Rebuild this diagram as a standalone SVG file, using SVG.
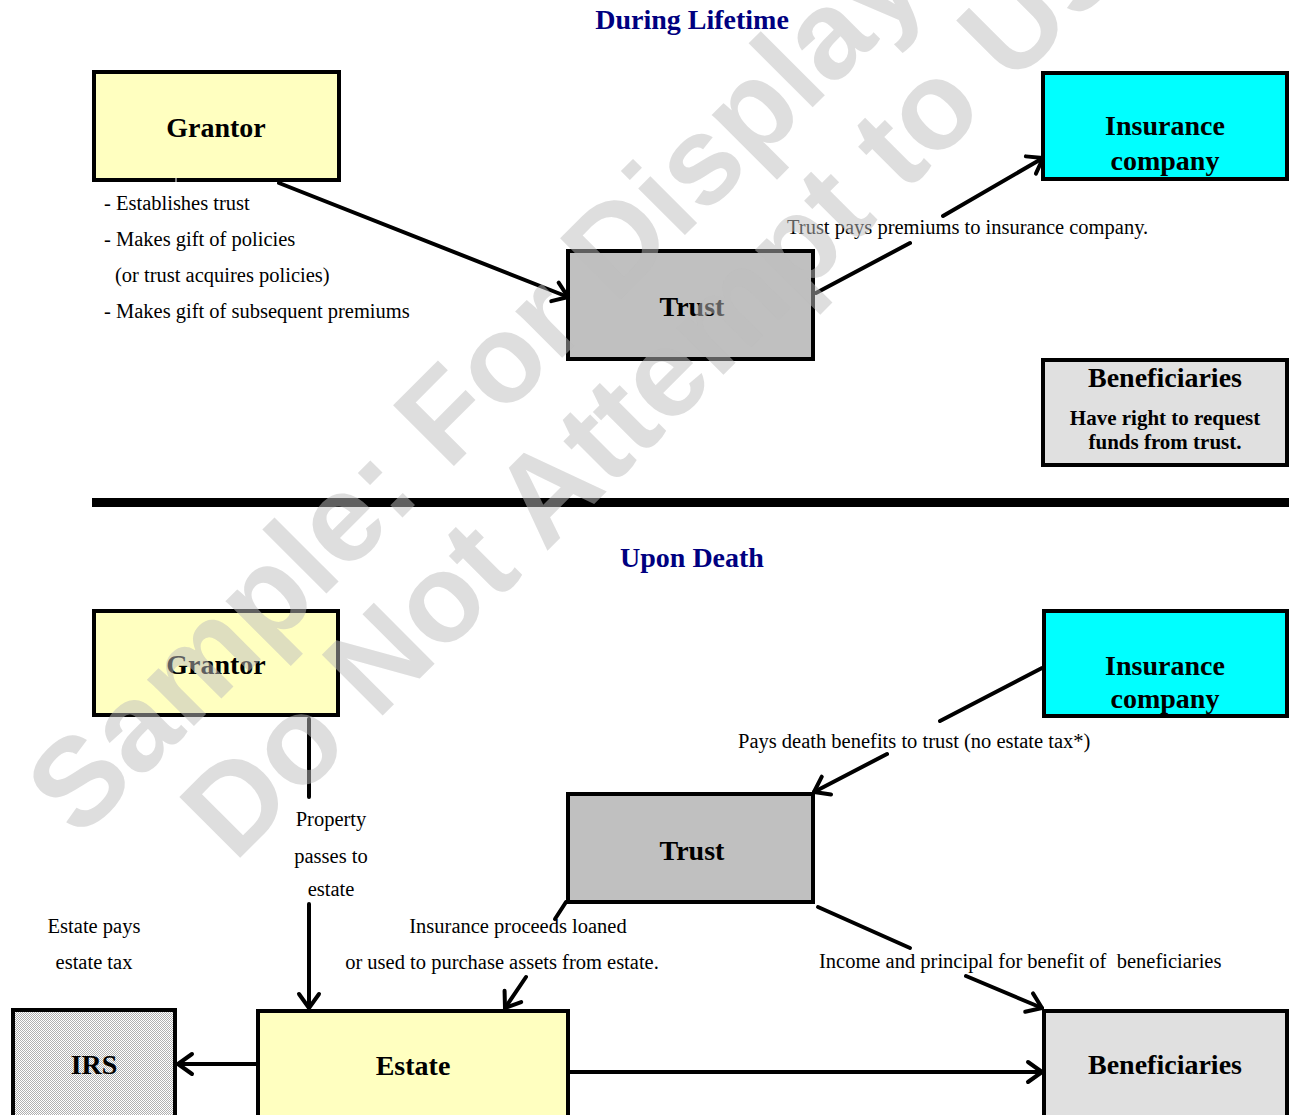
<svg xmlns="http://www.w3.org/2000/svg" width="1289" height="1115" viewBox="0 0 1289 1115">
  <defs>
    <style>
      .box { stroke: #000; stroke-width: 4; }
      .yellow { fill: #ffffc0; }
      .cyan { fill: #00ffff; }
      .grey { fill: #c0c0c0; }
      .light { fill: #e0e0e0; }
      .title { font-family: "Liberation Serif", "Times New Roman", serif; font-weight: bold; font-size: 28px; fill: #000080; text-anchor: middle; }
      .name { font-family: "Liberation Serif", "Times New Roman", serif; font-weight: bold; font-size: 28px; fill: #000; text-anchor: middle; }
      .sub { font-family: "Liberation Serif", "Times New Roman", serif; font-weight: bold; font-size: 21px; fill: #000; text-anchor: middle; }
      .lbl { font-family: "Liberation Serif", "Times New Roman", serif; font-size: 20.5px; fill: #000; white-space: pre; }
      .mid { text-anchor: middle; }
      .conn line { stroke: #000; stroke-width: 4; stroke-linecap: round; fill: none; }
      .wm { font-family: "Liberation Sans", Arial, sans-serif; font-weight: bold; font-size: 125px; fill: #bebebe; fill-opacity: 0.5; text-anchor: middle; }
    </style>
    <marker id="arr" markerUnits="userSpaceOnUse" markerWidth="40" markerHeight="40" viewBox="-20 -20 40 40" refX="0" refY="0" orient="auto" overflow="visible">
      <path d="M-14,-10 L0,0 L-14,10" fill="none" stroke="#000" stroke-width="4" stroke-linecap="round" stroke-linejoin="round"/>
    </marker>
    <pattern id="dots" width="2" height="2" patternUnits="userSpaceOnUse">
      <rect width="2" height="2" fill="#ffffff"/>
      <rect width="1" height="1" fill="#b0b0b0"/>
      <rect x="1" y="1" width="1" height="1" fill="#b0b0b0"/>
    </pattern>
  </defs>

  <rect width="1289" height="1115" fill="#ffffff"/>

  <!-- Section titles -->
  <text class="title" x="692" y="29">During Lifetime</text>
  <text class="title" x="692" y="567">Upon Death</text>

  <!-- Section divider -->
  <rect x="92" y="498" width="1197" height="9" fill="#000"/>

  <!-- During lifetime -->
  <g id="grantor-life">
    <rect class="box yellow" x="94" y="72" width="245" height="108"/>
    <line x1="176" y1="178" x2="176" y2="183" stroke="#fff" stroke-width="1"/>
    <text class="name" x="216" y="137">Grantor</text>
  </g>
  <g id="grantor-duties">
    <text class="lbl" x="104" y="210">- Establishes trust</text>
    <text class="lbl" x="104" y="246">- Makes gift of policies</text>
    <text class="lbl" x="115" y="282">(or trust acquires policies)</text>
    <text class="lbl" x="104" y="318">- Makes gift of subsequent premiums</text>
  </g>
  <g id="trust-life">
    <rect class="box grey" x="568" y="251" width="245" height="108"/>
    <text class="name" x="692" y="316">Trust</text>
  </g>
  <g id="insurer-life">
    <rect class="box cyan" x="1043" y="73" width="244" height="106"/>
    <text class="name" x="1165" y="135">Insurance</text>
    <text class="name" x="1165" y="170">company</text>
  </g>
  <g id="beneficiaries-life">
    <rect class="box light" x="1043" y="360" width="244" height="105"/>
    <text class="name" x="1165" y="387">Beneficiaries</text>
    <text class="sub" x="1165" y="425">Have right to request</text>
    <text class="sub" x="1165" y="449">funds from trust.</text>
  </g>

  <!-- Upon death -->
  <g id="grantor-death">
    <rect class="box yellow" x="94" y="611" width="244" height="104"/>
    <text class="name" x="216" y="674">Grantor</text>
  </g>
  <g id="insurer-death">
    <rect class="box cyan" x="1044" y="611" width="243" height="105"/>
    <text class="name" x="1165" y="675">Insurance</text>
    <text class="name" x="1165" y="708">company</text>
  </g>
  <g id="trust-death">
    <rect class="box grey" x="568" y="794" width="245" height="108"/>
    <text class="name" x="692" y="860">Trust</text>
  </g>
  <g id="irs">
    <rect class="box" fill="url(#dots)" x="13" y="1010" width="162" height="120"/>
    <text class="name" x="94" y="1074">IRS</text>
  </g>
  <g id="estate">
    <rect class="box yellow" x="258" y="1011" width="310" height="120"/>
    <text class="name" x="413" y="1075">Estate</text>
  </g>
  <g id="beneficiaries-death">
    <rect class="box light" x="1044" y="1011" width="243" height="120"/>
    <text class="name" x="1165" y="1074">Beneficiaries</text>
  </g>

  <!-- Connectors -->
  <g id="connectors" class="conn">
    <line x1="279" y1="183" x2="568" y2="297" marker-end="url(#arr)"/>
    <line x1="816" y1="293" x2="910" y2="243"/>
    <line x1="943" y1="216" x2="1043" y2="158" marker-end="url(#arr)"/>
    <line x1="309" y1="719" x2="309" y2="797"/>
    <line x1="309" y1="904" x2="309" y2="1008" marker-end="url(#arr)"/>
    <line x1="1042" y1="668" x2="940" y2="721"/>
    <line x1="887" y1="754" x2="814" y2="792" marker-end="url(#arr)"/>
    <line x1="566" y1="902" x2="555" y2="919"/>
    <line x1="526" y1="977" x2="505" y2="1008" marker-end="url(#arr)"/>
    <line x1="818" y1="907" x2="910" y2="948"/>
    <line x1="966" y1="976" x2="1042" y2="1008" marker-end="url(#arr)"/>
    <line x1="256" y1="1064" x2="178" y2="1064" marker-end="url(#arr)"/>
    <line x1="570" y1="1072" x2="1042" y2="1072" marker-end="url(#arr)"/>
  </g>

  <!-- Connector labels -->
  <g id="connector-labels">
    <text class="lbl" x="787" y="234">Trust pays premiums to insurance company.</text>
    <text class="lbl" x="738" y="748">Pays death benefits to trust (no estate tax*)</text>
    <text class="lbl mid" x="331" y="826">Property</text>
    <text class="lbl mid" x="331" y="863">passes to</text>
    <text class="lbl mid" x="331" y="896">estate</text>
    <text class="lbl mid" x="94" y="933">Estate pays</text>
    <text class="lbl mid" x="94" y="969">estate tax</text>
    <text class="lbl mid" x="518" y="933">Insurance proceeds loaned</text>
    <text class="lbl mid" x="502" y="969">or used to purchase assets from estate.</text>
    <text class="lbl" x="819" y="968">Income and principal for benefit of  beneficiaries</text>
  </g>

  <!-- Watermark overlay -->
  <g id="watermark" transform="translate(615,305) rotate(-45)">
    <text class="wm" x="0" y="0">Sample: For Display Only</text>
    <text class="wm" x="0" y="126">Do Not Attempt to Use</text>
  </g>
</svg>
